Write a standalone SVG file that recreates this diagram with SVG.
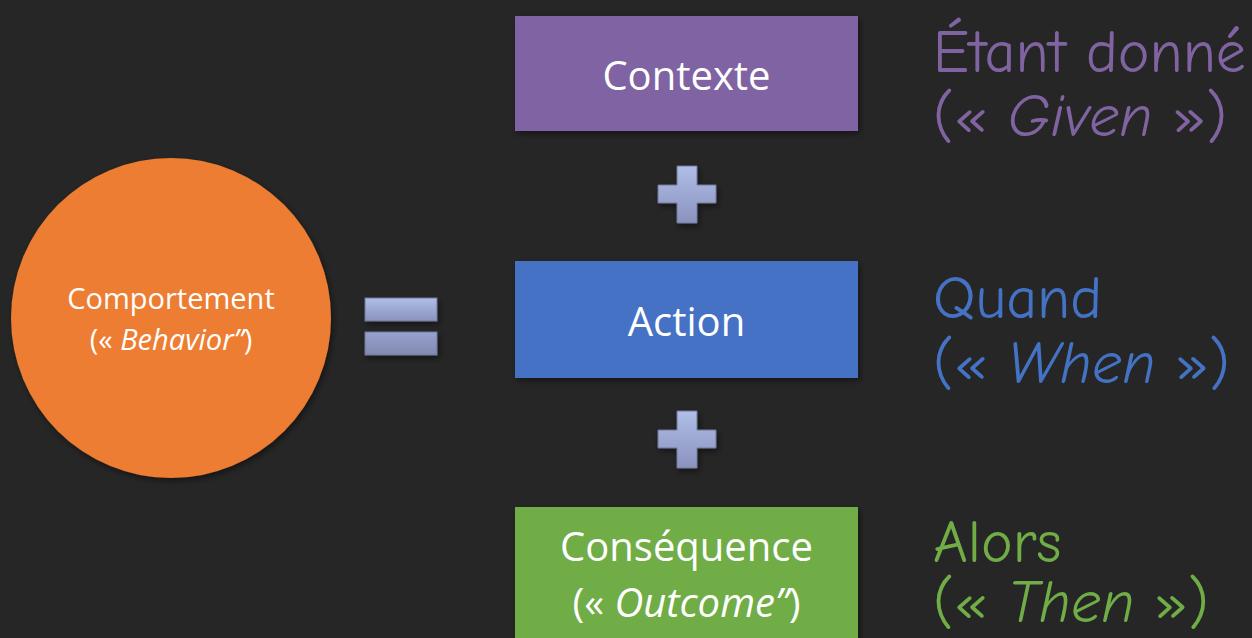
<svg xmlns="http://www.w3.org/2000/svg" width="1252" height="638" viewBox="0 0 1252 638">
<defs>
<style>
.box{font-family:"Open Sans","Liberation Sans",sans-serif;fill:#ffffff;text-anchor:middle}
.side{font-family:"Comic Neue","Liberation Sans","DejaVu Sans",sans-serif;font-size:60px}
.op{fill:url(#opg);stroke:#6e7698;stroke-width:1}
</style>
<linearGradient id="opg" x1="0" y1="0" x2="0" y2="1">
<stop offset="0" stop-color="#b0bee8"/>
<stop offset="1" stop-color="#8a93bd"/>
</linearGradient>
<linearGradient id="opg2" x1="0" y1="0" x2="0" y2="1">
<stop offset="0" stop-color="#97a2cf"/>
<stop offset="1" stop-color="#8089b0"/>
</linearGradient>
<filter id="sh" x="-10%" y="-10%" width="130%" height="130%">
<feDropShadow dx="2" dy="3" stdDeviation="3" flood-color="#000" flood-opacity="0.45"/>
</filter>
</defs>
<rect width="1252" height="638" fill="#262626"/>
<g id="comportement">
<circle cx="171" cy="318" r="160" fill="#ed7d31" filter="url(#sh)"/>
<text class="box" x="171" y="309" font-size="29">Comportement</text>
<text class="box" x="171" y="350" font-size="29">(« <tspan font-style="italic">Behavior”</tspan>)</text>
</g>
<g id="equals" filter="url(#sh)">
<rect x="365" y="298" width="72" height="23" fill="url(#opg)" stroke="#6e7698"/>
<rect x="365" y="332" width="72" height="23" fill="url(#opg2)" stroke="#6e7698"/>
</g>
<g id="contexte">
<rect x="515" y="16" width="343" height="115" fill="#8064a2" filter="url(#sh)"/>
<text class="box" x="686.5" y="90" font-size="40">Contexte</text>
</g>
<g id="plus1" filter="url(#sh)">
<path class="op" d="M677 166H697V185H716V203H697V223H677V203H658V185H677Z"/>
</g>
<g id="action">
<rect x="515" y="261" width="343" height="117" fill="#4472c4" filter="url(#sh)"/>
<text class="box" x="686.5" y="336" font-size="40">Action</text>
</g>
<g id="plus2" filter="url(#sh)">
<path class="op" d="M677 411H697V430H716V448H697V468H677V448H658V430H677Z"/>
</g>
<g id="consequence">
<rect x="515" y="507" width="343" height="140" fill="#70ad47" filter="url(#sh)"/>
<text class="box" x="686.5" y="561" font-size="40">Conséquence</text>
<text class="box" x="686.5" y="617" font-size="40">(« <tspan font-style="italic">Outcome”</tspan>)</text>
</g>
<g id="given" class="side" fill="#8064a2">
<text x="933" y="72">Étant donné</text>
<text x="933" y="136">(« <tspan font-style="italic">Given</tspan> »)</text>
</g>
<g id="when" class="side" fill="#4472c4">
<text x="933" y="318">Quand</text>
<text x="933" y="383">(« <tspan font-style="italic">When</tspan> »)</text>
</g>
<g id="then" class="side" fill="#70ad47">
<text x="933" y="562">Alors</text>
<text x="933" y="622">(« <tspan font-style="italic">Then</tspan> »)</text>
</g>
<g id="connectors"/>
</svg>
